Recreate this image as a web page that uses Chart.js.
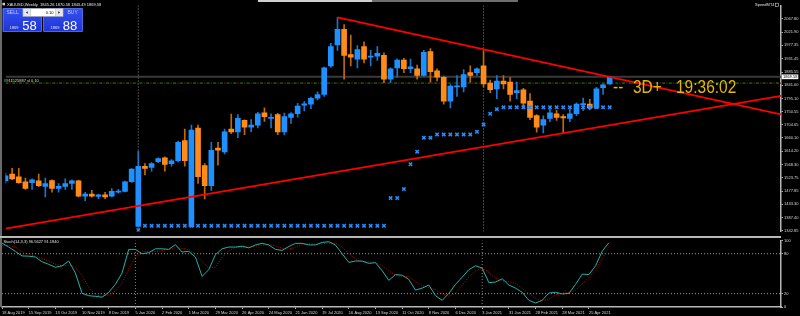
<!DOCTYPE html>
<html><head><meta charset="utf-8">
<script src="https://cdn.jsdelivr.net/npm/chart.js@4.4.0/dist/chart.umd.min.js"></script>
<style>
html,body{margin:0;padding:0;background:#000;width:800px;height:316px;overflow:hidden}
canvas{position:absolute;left:0}
#main{top:0}
#sub{top:237px}
.frame{position:absolute;background:#9a9a9a}
</style></head><body>
<canvas id="main" width="800" height="237"></canvas>
<canvas id="sub" width="800" height="79"></canvas>
<div class="frame" style="left:0;top:0;width:1.5px;height:307px;background:#6a6a6a"></div>
<div class="frame" style="left:0;top:236px;width:781px;height:1.5px;background:#b8b8b8"></div>
<div class="frame" style="left:258px;top:0;width:114px;height:2px;background:#cfcfcf"></div>
<div class="frame" style="left:372px;top:0;width:146px;height:2px;background:#6e6e6e"></div>
<script>
// ---- data (weekly XAUUSD, week index 0 = 18 Aug 2019) ----
const opens  = [1513,1536,1527,1510,1507,1513,1494,1514,1487,1494,1504,1513,1461,1468,1460,1465,1461,1474,1477,1510,
                1357,1563,1559,1579,1592,1572,1582,1651,1356,1694,1565,1497,1625,1612,1690,1681,1720,1697,1704,1746,
                1727,1740,1681,1730,1743,1772,1776,1796,1809,1907,1979,2032,1946,1930,1973,1937,1940,1943,1861,1900,
                1927,1897,1897,1874,1956,1890,1868,1786,1835,1835,1884,1884,1907,1848,1828,1855,1851,1815,1825,1786,
                1737,1704,1727,1743,1733,1727,1743,1774,1776,1763,1832,1845.26];
const highs  = [1540,1556,1556,1523,1520,1536,1523,1517,1504,1520,1517,1516,1474,1481,1467,1474,1487,1484,1512,1555,
                1615,1572,1576,1592,1595,1586,1649,1690,1704,1704,1572,1645,1645,1690,1742,1740,1722,1723,1748,1763,
                1743,1744,1745,1747,1779,1785,1800,1818,1903,1984,2072,2048,2012,1976,1989,1960,1973,1952,1900,1931,
                1933,1930,1910,1960,1966,1897,1872,1843,1874,1894,1907,1900,1959,1858,1874,1874,1867,1851,1830,1812,
                1740,1736,1759,1755,1740,1759,1780,1797,1792,1833,1845,1870.58];
const lows   = [1505,1517,1504,1484,1484,1493,1458,1474,1474,1484,1484,1458,1445,1457,1452,1452,1458,1471,1475,1508,
                1355,1533,1546,1575,1546,1563,1578,1563,1355,1504,1451,1480,1567,1605,1675,1661,1671,1681,1694,1717,
                1694,1671,1670,1710,1731,1753,1760,1790,1802,1902,1960,1861,1907,1900,1917,1907,1926,1849,1850,1868,
                1884,1884,1861,1872,1851,1855,1776,1763,1802,1818,1851,1874,1834,1815,1795,1828,1786,1795,1762,1723,
                1680,1677,1716,1720,1677,1716,1736,1754,1756,1760,1809,1843.49];
const closes = [1530,1520,1507,1487,1517,1497,1504,1487,1494,1504,1513,1461,1468,1461,1465,1458,1477,1478,1510,1553,
                1563,1556,1572,1589,1569,1582,1645,1582,1687,1527,1497,1618,1618,1681,1681,1727,1697,1704,1743,1733,
                1730,1681,1733,1743,1769,1777,1796,1809,1900,1973,2032,1943,1937,1963,1930,1940,1950,1861,1897,1927,
                1897,1904,1874,1953,1887,1868,1786,1838,1838,1877,1874,1897,1845,1825,1855,1845,1809,1822,1779,1730,
                1697,1723,1746,1730,1729,1743,1776,1778,1763,1828,1842,1869.58];
// Parabolic SAR (null = not drawn)
const sar = [null,null,null,null,null,null,null,null,null,null,null,null,null,null,null,null,null,null,null,null,
             1344,1359,1359,1359,1359,1359,1359,1359,1359,1359,1359,1359,1359,1359,1359,1359,1359,1359,1359,1359,
             1359,1359,1359,1359,1359,1359,1359,1359,1359,1359,1359,1359,1359,1359,1359,1359,1359,1359,1454,1454,
             1485,1570,1613,1661,1661,1672,1672,1672,1672,1672,1672,1681,1706,1743,1758.5,1765,1765,1765,1765,1765,
             1765,1765,1765,1765,1765,1765,1765,1765,1765,1765,1765,1765];
// Stochastic(14,3,3)
const stochMain = [96,90,83.6,76.7,76.3,75,68,64,59.7,61.7,69,51,20.5,17,16,14.7,22,34,51,86.5,
                   86.5,80,81.5,87.4,87.4,86.5,93.7,82.5,83.6,75,46,56,78.6,87.4,90,90,91.3,88.8,93.2,95.6,
                   93.2,86.5,85,90.8,95.6,95.6,93.2,93.2,97,98,93,80,67,69,69,65.5,66.6,54.5,40,48.7,
                   47.7,41.4,25.4,28.3,33,17,10,20.5,34,44.8,56,62,58.3,36.5,37.5,42.3,33,28.3,22,10,
                   6,10,21,22,19.6,20.5,34,49.5,48.7,61.8,84,96.5627];
const stochSignal = [92,93,90,83,79,76,73,69,64,62,63,60,47,30,18,16,18,24,36,57,
                     75,84,83,83,85,87,89,88,86,80,68,59,60,74,85,89,90,90,91,93,
                     94,92,88,87,90,94,95,94,95,96,96,90,80,72,68,68,67,62,54,48,
                     45,46,38,32,29,26,20,16,21,33,45,54,59,52,44,39,38,35,28,20,
                     13,9,12,18,21,21,25,35,44,55,73,91.184];
// trend lines (week index, price)
const trendDown = [{x:50, y:2073}, {x:116.8, y:1740.8}];
const trendUp   = [{x:0, y:1349.5}, {x:116.8, y:1804.4}];
const orderPrice = 1848;
const orderLabel = "#911525887 sl 0.10";
const yearSeparators = [20, 72];
const priceTicks = [2067.80,2021.90,1977.35,1931.45,1885.55,1841.00,1795.10,1750.55,1704.65,1660.10,1614.20,1568.30,1523.75,1477.85,1433.30,1387.40,1342.85];
const stochTicks = [0,20,80,100];
const stochLevels = [20,80];
const timeTickIdx = [0,4,8,12,16,20,24,28,32,36,40,44,48,52,56,60,64,68,72,76,80,84,88];
const timeLabels = ["18 Aug 2019","15 Sep 2019","13 Oct 2019","10 Nov 2019","8 Dec 2019","5 Jan 2020","2 Feb 2020","1 Mar 2020","29 Mar 2020","26 Apr 2020","24 May 2020","21 Jun 2020","19 Jul 2020","16 Aug 2020","13 Sep 2020","11 Oct 2020","8 Nov 2020","6 Dec 2020","3 Jan 2021","31 Jan 2021","28 Feb 2021","28 Mar 2021","25 Apr 2021"];
const symbolTitle = "XAUUSD,Weekly";
const timerText = ["--", "3D+", "19:36:02"];

// ---- build ----
const XMIN = 0, XMAX = 116.8, PMIN = 1339.6, PMAX = 2113.7;
const idx = closes.map((_, i) => i);
const last = closes.length - 1;
const UP = '#1E90FF', DN = '#FF8C1A', UPW = '#1c74cc', DNW = '#c06a08';
const FONT = '"Liberation Sans", Arial, sans-serif';

const bodyData = idx.map(i => ({x: i, y: [opens[i], closes[i]]}));
const wickData = idx.map(i => ({x: i, y: [lows[i], highs[i]]}));
const bodyCol = idx.map(i => closes[i] >= opens[i] ? UP : DN);
const wickCol = idx.map(i => closes[i] >= opens[i] ? UPW : DNW);
const sarData = idx.filter(i => sar[i] !== null).map(i => ({x: i, y: sar[i]}));

function hline(p, color, dash, width, order, offset) {
  return {type:'line', data:[{x:XMIN,y:p},{x:XMAX,y:p}], borderColor:color, borderWidth:width,
          borderDash:dash, borderDashOffset:offset||0, pointRadius:0, order:order};
}
function vline(x, lo, hi, order) {
  return {type:'line', data:[{x:x,y:lo},{x:x,y:hi}], borderColor:'#8a8a8a', borderWidth:1,
          borderDash:[1,2], pointRadius:0, order:order};
}
const axisCommon = (ticksArr, fmt) => ({
  position:'right',
  afterFit(s){ s.width = 19; },
  afterBuildTicks(s){ s.ticks = ticksArr.map(v => ({value:v})); },
  ticks:{color:'#d8d8d8', font:{family:FONT, size:4}, padding:1, callback: fmt},
  grid:{drawOnChartArea:false, tickLength:2, color:'#b0b0b0'},
  border:{color:'#b8b8b8', width:1.5}
});

const mainOverlay = {
  id:'mainOverlay',
  afterDraw(chart){
    const ctx = chart.ctx, ys = chart.scales.y;
    ctx.save();
    ctx.fillStyle = '#d0d0d0';
    ctx.fillRect(2.5, 2.8, 2.5, 2.5);
    ctx.font = '4px ' + FONT; ctx.textBaseline = 'middle'; ctx.textAlign = 'left';
    ctx.fillStyle = '#e8e8e8';
    ctx.fillText(symbolTitle + '  ' + opens[last].toFixed(2) + ' ' + highs[last].toFixed(2) + ' ' + lows[last].toFixed(2) + ' ' + closes[last].toFixed(2), 7, 4.4);
    const box = (x, w) => {
      const g = ctx.createLinearGradient(0, 8, 0, 32);
      g.addColorStop(0, '#3552f0'); g.addColorStop(1, '#1f33d6');
      ctx.fillStyle = g; ctx.fillRect(x, 8.3, w, 23.4);
      ctx.strokeStyle = '#6f86ff'; ctx.lineWidth = 0.7; ctx.strokeRect(x + 0.4, 8.7, w - 0.8, 22.6);
    };
    box(2.7, 39); box(43.3, 39.4);
    ctx.fillStyle = '#c4c4c4'; ctx.fillRect(22.7, 8.3, 40.6, 8.4);
    ctx.fillStyle = '#ffffff'; ctx.fillRect(31, 9, 24, 7);
    ctx.fillStyle = '#e6e6e6'; ctx.fillRect(23.4, 9, 7, 7); ctx.fillRect(55.6, 9, 7, 7);
    ctx.fillStyle = '#333';
    ctx.beginPath(); ctx.moveTo(25.8,12.5); ctx.lineTo(27.8,11.3); ctx.lineTo(27.8,13.7); ctx.fill();
    ctx.beginPath(); ctx.moveTo(60.2,12.5); ctx.lineTo(58.2,11.3); ctx.lineTo(58.2,13.7); ctx.fill();
    ctx.fillStyle = '#000'; ctx.font = '4px ' + FONT; ctx.textAlign = 'right';
    ctx.fillText('0.10', 53.5, 12.6);
    ctx.textAlign = 'left'; ctx.fillStyle = '#b8c8ff'; ctx.font = '5px ' + FONT;
    ctx.fillText('SELL', 6.5, 12.7); ctx.fillText('BUY', 67.5, 12.7);
    const bid = closes[last].toFixed(2), ask = (closes[last] + 0.30).toFixed(2);
    ctx.fillStyle = '#dfe6ff'; ctx.font = '4px ' + FONT; ctx.textBaseline = 'alphabetic';
    ctx.fillText(bid.slice(0, 4), 9.5, 28.6); ctx.fillText(ask.slice(0, 4), 50.5, 28.6);
    ctx.fillStyle = '#ffffff'; ctx.font = '13px ' + FONT;
    ctx.fillText(bid.slice(5, 7), 22.3, 30.2); ctx.fillText(ask.slice(5, 7), 62.8, 30.2);
    ctx.font = '4px ' + FONT; ctx.fillStyle = '#e0e0e0'; ctx.textBaseline = 'middle';
    ctx.fillText('SpeedMT4', 755, 5);
    ctx.strokeStyle = '#cfcfcf'; ctx.lineWidth = 0.6; ctx.strokeRect(775.3, 3.2, 3, 3.4);
    const oy = ys.getPixelForValue(orderPrice);
    ctx.fillStyle = '#dcdcdc'; ctx.font = '4px ' + FONT;
    ctx.fillText(orderLabel, 4, oy - 2.6);
    ctx.fillStyle = '#E6B800'; ctx.font = '18px ' + FONT; ctx.textBaseline = 'alphabetic';
    const drawScaled = (t, x) => { ctx.save(); ctx.translate(x, 93); ctx.scale(0.86, 1); ctx.fillText(t, 0, 0); ctx.restore(); };
    drawScaled(timerText[0], 613); drawScaled(timerText[1], 633); drawScaled(timerText[2], 676);
    const py = ys.getPixelForValue(closes[last]);
    ctx.fillStyle = '#ffffff'; ctx.fillRect(781.7, py - 2.3, 16.6, 4.7);
    ctx.fillStyle = '#000'; ctx.font = '4px ' + FONT; ctx.textBaseline = 'middle';
    ctx.fillText(closes[last].toFixed(2), 783, py + 0.1);
    ctx.restore();
  }
};

new Chart(document.getElementById('main'), {
  type:'bar',
  data:{datasets:[
    hline(closes[last], '#3a3a3a', [], 2, 20),
    vline(yearSeparators[0], PMIN, PMAX, 19),
    vline(yearSeparators[1], PMIN, PMAX, 19),
    hline(orderPrice, '#00a000', [3,3.7], 1, 18, 0),
    hline(orderPrice, '#b00000', [1.6,5.1], 1, 17, -4),
    {type:'bar', data:wickData, backgroundColor:wickCol, barThickness:1, grouped:false, borderWidth:0, minBarLength:1, order:12},
    {type:'bar', data:bodyData, backgroundColor:bodyCol, barThickness:5, grouped:false, borderWidth:0, minBarLength:1, order:11},
    {type:'line', data:sarData, showLine:false, pointStyle:'crossRot', pointRadius:2.4, pointBorderColor:'#2a8cff', pointBorderWidth:1.5, pointBackgroundColor:'#2a8cff', order:5},
    {type:'line', data:trendDown, borderColor:'#ff0000', borderWidth:1.8, pointRadius:0, order:2},
    {type:'line', data:trendUp, borderColor:'#ff0000', borderWidth:1.8, pointRadius:0, order:2}
  ]},
  options:{
    responsive:false, animation:false, events:[],
    layout:{padding:{left:2, top:0, right:0, bottom:1}},
    plugins:{legend:{display:false}, tooltip:{enabled:false}},
    scales:{
      x:{type:'linear', min:XMIN, max:XMAX, offset:false, display:false, grid:{offset:false}},
      y:Object.assign({min:PMIN, max:PMAX}, axisCommon(priceTicks, v => Number(v).toFixed(2)))
    }
  },
  plugins:[mainOverlay]
});

const subOverlay = {
  id:'subOverlay',
  afterDraw(chart){
    const ctx = chart.ctx;
    ctx.save();
    ctx.fillStyle = '#e0e0e0'; ctx.font = '4px ' + FONT; ctx.textBaseline = 'middle';
    ctx.fillText('Stoch(14,3,3) ' + stochMain[last].toFixed(4) + ' ' + stochSignal[last].toFixed(4), 3.5, 4.5);
    ctx.restore();
  }
};

new Chart(document.getElementById('sub'), {
  type:'line',
  data:{datasets:[
    vline(yearSeparators[0], 0, 100, 9),
    vline(yearSeparators[1], 0, 100, 9),
    hline(stochLevels[0], '#9a9a9a', [1,2], 1, 8),
    hline(stochLevels[1], '#9a9a9a', [1,2], 1, 8),
    {data: idx.map(i => ({x:i, y:stochSignal[i]})), borderColor:'#d00000', borderWidth:1, borderDash:[1,1.5], pointRadius:0, order:3},
    {data: idx.map(i => ({x:i, y:stochMain[i]})), borderColor:'#20B2AA', borderWidth:1, pointRadius:0, order:2}
  ]},
  options:{
    responsive:false, animation:false, events:[],
    layout:{padding:{left:2, top:1, right:0, bottom:0}},
    plugins:{legend:{display:false}, tooltip:{enabled:false}},
    scales:{
      x:{type:'linear', min:XMIN, max:XMAX, position:'bottom',
         afterFit(s){ s.height = 9; },
         afterBuildTicks(s){ s.ticks = timeTickIdx.map(v => ({value:v})); },
         ticks:{align:'start', autoSkip:false, maxRotation:0, minRotation:0, padding:1, color:'#d8d8d8',
                font:{family:FONT, size:4}, callback:(v, i) => timeLabels[i]},
         grid:{drawOnChartArea:false, tickLength:2, color:'#b0b0b0'},
         border:{color:'#b8b8b8', width:1.5}},
      y:Object.assign({min:0, max:100}, axisCommon(stochTicks, v => String(v)))
    }
  },
  plugins:[subOverlay]
});
</script>
</body></html>
